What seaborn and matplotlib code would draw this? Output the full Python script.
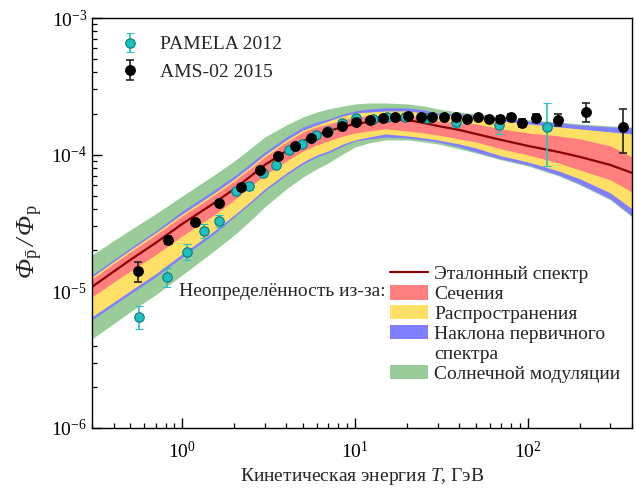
import matplotlib
matplotlib.use('Agg')
import matplotlib.pyplot as plt
import seaborn as sns
from matplotlib.lines import Line2D
from matplotlib.patches import Patch

# Energy grid for the model curves (GeV)
energy = [0.3, 0.5, 0.7, 1, 1.5, 2, 2.5, 3, 4, 5, 6, 7, 8.5, 10, 12, 15, 20, 25, 30, 40,
          50, 70, 100, 150, 200, 300, 400]

# Reference spectrum (pbar/p)
ref_ratio = [1.079e-5, 1.70e-5, 2.26e-5, 3.12e-5, 4.36e-5, 5.62e-5, 7.00e-5, 8.41e-5, 1.065e-4, 1.260e-4,
             1.394e-4, 1.492e-4, 1.596e-4, 1.678e-4, 1.736e-4, 1.795e-4, 1.795e-4, 1.707e-4, 1.623e-4, 1.517e-4,
             1.418e-4, 1.282e-4, 1.159e-4, 1.047e-4, 9.63e-5, 8.41e-5, 7.36e-5]

# cross sections (red band)
xsec_hi = [1.234e-5, 1.945e-5, 2.59e-5, 3.57e-5, 4.99e-5, 6.43e-5, 8.00e-5, 9.63e-5, 1.239e-4, 1.467e-4,
           1.596e-4, 1.678e-4, 1.795e-4, 1.89e-4, 1.92e-4, 1.95e-4, 1.95e-4, 1.86e-4, 1.765e-4, 1.707e-4,
           1.678e-4, 1.543e-4, 1.442e-4, 1.371e-4, 1.304e-4, 1.159e-4, 9.63e-5]
xsec_lo = [9.12e-6, 1.41e-5, 1.85e-5, 2.55e-5, 3.57e-5, 4.67e-5, 5.91e-5, 7.11e-5, 9.00e-5, 1.065e-4,
           1.178e-4, 1.260e-4, 1.371e-4, 1.442e-4, 1.492e-4, 1.543e-4, 1.492e-4, 1.442e-4, 1.394e-4, 1.304e-4,
           1.239e-4, 1.102e-4, 9.96e-5, 8.70e-5, 7.73e-5, 6.54e-5, 5.34e-5]

# propagation (yellow band)
prop_hi = [1.276e-5, 2.01e-5, 2.68e-5, 3.69e-5, 5.16e-5, 6.65e-5, 8.27e-5, 9.96e-5, 1.282e-4, 1.517e-4,
           1.650e-4, 1.765e-4, 1.92e-4, 2.02e-4, 2.05e-4, 2.09e-4, 2.09e-4, 2.02e-4, 1.95e-4, 1.92e-4,
           1.89e-4, 1.765e-4, 1.678e-4, 1.596e-4, 1.543e-4, 1.467e-4, 1.418e-4]
prop_lo = [6.51e-6, 1.009e-5, 1.343e-5, 1.88e-5, 2.72e-5, 3.63e-5, 4.59e-5, 5.62e-5, 7.36e-5, 8.85e-5,
           9.96e-5, 1.065e-4, 1.198e-4, 1.282e-4, 1.348e-4, 1.418e-4, 1.371e-4, 1.326e-4, 1.282e-4, 1.198e-4,
           1.120e-4, 9.79e-5, 8.85e-5, 7.61e-5, 6.65e-5, 5.25e-5, 4.01e-5]

# primary spectrum slope (blue band)
slope_hi = [1.32e-5, 2.08e-5, 2.77e-5, 3.88e-5, 5.43e-5, 7.00e-5, 8.70e-5, 1.047e-4, 1.348e-4, 1.596e-4,
            1.736e-4, 1.825e-4, 1.99e-4, 2.09e-4, 2.16e-4, 2.20e-4, 2.20e-4, 2.125e-4, 2.02e-4, 1.99e-4,
            1.95e-4, 1.86e-4, 1.765e-4, 1.707e-4, 1.650e-4, 1.596e-4, 1.569e-4]
slope_lo = [6.19e-6, 9.59e-6, 1.276e-5, 1.79e-5, 2.59e-5, 3.51e-5, 4.44e-5, 5.43e-5, 7.11e-5, 8.56e-5,
            9.63e-5, 1.030e-4, 1.159e-4, 1.260e-4, 1.304e-4, 1.348e-4, 1.326e-4, 1.282e-4, 1.239e-4, 1.139e-4,
            1.047e-4, 9.31e-5, 8.41e-5, 7.11e-5, 6.11e-5, 4.75e-5, 3.57e-5]

# solar modulation (green band)
solar_hi = [1.85e-5, 2.82e-5, 3.69e-5, 4.99e-5, 7.00e-5, 9.00e-5, 1.120e-4, 1.348e-4, 1.650e-4, 1.89e-4,
            2.05e-4, 2.16e-4, 2.27e-4, 2.35e-4, 2.39e-4, 2.39e-4, 2.35e-4, 2.27e-4, 2.16e-4, 2.05e-4,
            1.99e-4, 1.89e-4, 1.795e-4, 1.736e-4, 1.678e-4, 1.623e-4, 1.596e-4]
solar_lo = [4.49e-6, 7.08e-6, 9.43e-6, 1.32e-5, 1.945e-5, 2.59e-5, 3.33e-5, 4.15e-5, 5.62e-5, 6.88e-5,
            7.87e-5, 8.70e-5, 1.013e-4, 1.139e-4, 1.219e-4, 1.282e-4, 1.282e-4, 1.239e-4, 1.198e-4, 1.102e-4,
            1.030e-4, 9.16e-5, 8.27e-5, 7.00e-5, 6.01e-5, 4.67e-5, 3.51e-5]

# PAMELA 2012
pam_T = [0.56, 0.81, 1.07, 1.34, 1.62, 2.03, 2.42, 2.92, 3.47, 4.13, 4.92, 5.93, 6.97, 8.40, 10.1,
         12.6, 15.3, 19.5, 25.9, 38.1, 67.8, 129]
pam_val = [6.51e-6, 1.28e-5, 1.95e-5, 2.77e-5, 3.28e-5, 5.43e-5, 5.91e-5, 7.36e-5, 8.41e-5, 1.08e-4,
           1.20e-4, 1.39e-4, 1.49e-4, 1.71e-4, 1.86e-4, 1.83e-4, 1.89e-4, 1.89e-4, 1.86e-4, 1.74e-4,
           1.65e-4, 1.60e-4]
pam_err = [1.25e-6, 2.1e-6, 2.6e-6, 3.3e-6, 3.4e-6, 3.2e-6, 4.0e-6, 4.0e-6, 4.5e-6, 5e-6,
           5e-6, 6e-6, 6e-6, 7e-6, 8e-6, 8e-6, 9e-6, 1.0e-5, 1.2e-5, 1.45e-5, 2.3e-5, 7.8e-5]

# AMS-02 2015
ams_T = [0.555, 0.83, 1.19, 1.62, 2.17, 2.80, 3.57, 4.48, 5.54, 6.87, 8.40, 10.1, 12.2, 14.5, 17.1,
         20.1, 23.9, 28.0, 32.5, 38.1, 44.2, 51.2, 59.3, 68.7, 79.7, 92.3, 111, 149, 217, 357]
ams_val = [1.41e-5, 2.38e-5, 3.22e-5, 4.44e-5, 5.81e-5, 7.73e-5, 9.79e-5, 1.16e-4, 1.33e-4, 1.47e-4,
           1.62e-4, 1.74e-4, 1.80e-4, 1.86e-4, 1.89e-4, 1.92e-4, 1.89e-4, 1.89e-4, 1.89e-4, 1.89e-4,
           1.83e-4, 1.89e-4, 1.83e-4, 1.83e-4, 1.89e-4, 1.71e-4, 1.86e-4, 1.80e-4, 2.05e-4, 1.60e-4]
ams_err = [2.35e-6, 1.5e-6, 1.0e-6, 1.2e-6, 1.5e-6, 2e-6, 2.5e-6, 3e-6, 3e-6, 3.5e-6,
           4e-6, 4e-6, 4e-6, 4e-6, 4.5e-6, 4.5e-6, 5e-6, 5e-6, 5.5e-6, 6e-6,
           6.5e-6, 7e-6, 8e-6, 9e-6, 1.0e-5, 1.1e-5, 1.4e-5, 1.8e-5, 3.3e-5, 5.7e-5]

band_labels = ['Сечения', 'Распространения', 'Наклона первичного', 'Солнечной модуляции']
RED, YELLOW, BLUE, GREEN = '#ff7f7f', '#ffe066', '#7f7fff', '#99cc99'
LINE = '#8b0000'

sns.set_theme(style='ticks')
plt.rcParams['font.family'] = ['Liberation Serif', 'DejaVu Serif']
# custom math fonts: 'rm' is italic so that the capital Phi comes out slanted
plt.rcParams['mathtext.fontset'] = 'custom'
plt.rcParams['mathtext.rm'] = 'Liberation Serif:italic'
plt.rcParams['mathtext.it'] = 'Liberation Serif:italic'
plt.rcParams['mathtext.sf'] = 'Liberation Serif'

fig = plt.figure(figsize=(6.36, 4.92), dpi=100)
ax = fig.add_axes([0.1447, 0.1301, 0.849, 0.8333])
ax.set_xscale('log')
ax.set_yscale('log')

# uncertainty bands, widest first
ax.fill_between(energy, solar_lo, solar_hi, color=GREEN, lw=0)
ax.fill_between(energy, slope_lo, slope_hi, color=BLUE, lw=0)
ax.fill_between(energy, prop_lo, prop_hi, color=YELLOW, lw=0)
ax.fill_between(energy, xsec_lo, xsec_hi, color=RED, lw=0)
sns.lineplot(x=energy, y=ref_ratio, color=LINE, lw=1.6, ax=ax)

pam = ax.errorbar(pam_T, pam_val, yerr=pam_err, fmt='o', ms=6.8, mfc='#1fbfbf', mec='#0b7a7a', mew=0.8,
                  ecolor='#2cc0c0', elinewidth=1.2, capsize=3, capthick=1.2, label='PAMELA 2012')
ams = ax.errorbar(ams_T, ams_val, yerr=ams_err, fmt='o', ms=6.8, mfc='black', mec='black',
                  ecolor='#222222', elinewidth=1.2, capsize=3, capthick=1.2, label='AMS-02 2015')

ax.set_xlim(0.3, 400)
ax.set_ylim(1e-6, 1e-3)
ax.tick_params(which='both', direction='in', top=False, right=False, labelsize=14, colors='black')
ax.tick_params(axis='x', which='major', pad=9)
ax.tick_params(which='major', length=7, width=1)
ax.tick_params(which='minor', length=3.6, width=0.9)
for s in ax.spines.values():
    s.set_color('black')
    s.set_linewidth(1.0)

ax.set_xlabel('Кинетическая энергия $\\mathit{T}$, ГэВ', fontsize=14, labelpad=3)
ax.set_ylabel(r'$\Phi_{\bar{\mathsf{p}}}\,/\,\Phi_{\mathsf{p}}$', fontsize=19)
ax.yaxis.set_label_coords(-0.088, 0.455)

leg1 = ax.legend(handles=[pam, ams], loc='upper left', bbox_to_anchor=(0.016, 0.99), frameon=False,
                 fontsize=14, handlelength=1.6, handletextpad=0.75, labelspacing=0.5, borderpad=0.2)
ax.add_artist(leg1)

handles = [Line2D([], [], color=LINE, lw=1.6),
           Patch(color=RED, lw=0), Patch(color=YELLOW, lw=0), Patch(color=BLUE, lw=0),
           Patch(color='none', lw=0), Patch(color=GREEN, lw=0)]
labels = ['Эталонный спектр', band_labels[0], band_labels[1], band_labels[2], 'спектра', band_labels[3]]
ax.legend(handles=handles, labels=labels, loc='upper left', bbox_to_anchor=(0.533, 0.42), frameon=False,
          fontsize=14, handlelength=2.0, handleheight=0.75, handletextpad=0.3, labelspacing=0.1,
          borderpad=0.0)
ax.text(0.543, 0.332, 'Неопределённость из-за:', transform=ax.transAxes, ha='right', va='center',
        fontsize=14)

fig.savefig('out.png', dpi=100)
